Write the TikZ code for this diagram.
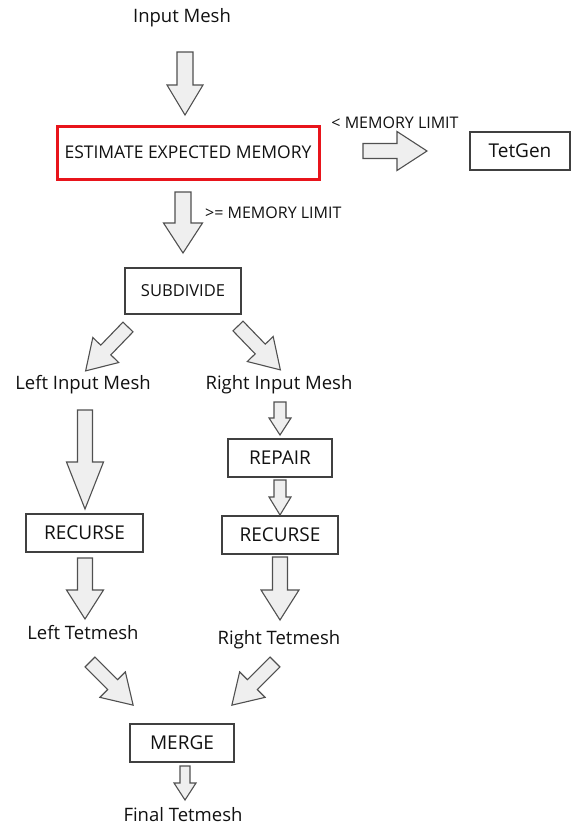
\documentclass[tikz,border=0pt]{standalone}
\usepackage{fontspec}
\setmainfont{Open Sans}
\newfontfamily\fbold{Open Sans}
\definecolor{arrfill}{HTML}{EFEFEF}
\definecolor{arrline}{HTML}{505050}
\definecolor{boxline}{HTML}{404040}
\definecolor{txt}{HTML}{111111}
\definecolor{redbox}{HTML}{E8141B}
\begin{document}
\begin{tikzpicture}[x=1pt,y=-1pt,
  lbl/.style={font=\fbold\fontsize{18.5}{20}\selectfont, text=txt, inner sep=0pt},
  small/.style={font=\fbold\fontsize{16}{18}\selectfont, text=txt, inner sep=0pt},
  procbox/.style={draw=boxline, line width=1.1pt, fill=white, inner sep=0pt, font=\fbold\fontsize{19}{21}\selectfont, text=txt},
  blkstyle/.style={draw=arrline, fill=arrfill, line width=1.1pt, line join=miter},
  pics/blk/.style args={#1/#2/#3/#4}{code={
    \draw[blkstyle] (0,-#2) -- ({#1-#4},-#2) -- ({#1-#4},-#3) -- (#1,0)
      -- ({#1-#4},#3) -- ({#1-#4},#2) -- (0,#2) -- cycle;}}
]
\useasboundingbox[fill=white] (0,0) rectangle (571,825);

% text nodes
\node[lbl] (in) at (182,18) {Input Mesh};
\node[draw=redbox, line width=3pt, minimum width=262pt, minimum height=53pt, inner sep=0pt,
      font=\fbold\fontsize{17.5}{19}\selectfont, text=txt] (est) at (188,152.5) {ESTIMATE EXPECTED MEMORY};
\node[small] (lim1) at (395,123) {< MEMORY LIMIT};
\node[procbox, minimum width=100pt, minimum height=38pt] (tet) at (520,151) {TetGen};
\node[small, anchor=west] (lim2) at (205,213) {>= MEMORY LIMIT};
\node[procbox, minimum width=116pt, minimum height=46pt, font=\fbold\fontsize{16.5}{18}\selectfont] (sub) at (183,291) {SUBDIVIDE};
\node[lbl] (lin) at (83,385) {Left Input Mesh};
\node[lbl] (rin) at (279,385) {Right Input Mesh};
\node[procbox, minimum width=104pt, minimum height=38pt] (rep) at (280,458) {REPAIR};
\node[procbox, minimum width=117pt, minimum height=38pt] (lrec) at (84.5,533) {RECURSE};
\node[procbox, minimum width=116pt, minimum height=38pt] (rrec) at (280,535) {RECURSE};
\node[lbl] (ltet) at (83,633) {Left Tetmesh};
\node[lbl] (rtet) at (279,640) {Right Tetmesh};
\node[procbox, minimum width=104pt, minimum height=38pt] (mrg) at (182,743) {MERGE};
\node[lbl] (fin) at (183,815) {Final Tetmesh};

% block arrows (length/shaft half/head half/head length)
\pic[rotate=-90] at (185,52) {blk=63/8/18/30};
\pic at (363,151) {blk=64/7.5/19.5/30};
\pic[rotate=-90] at (183,192) {blk=61/8/19.5/30};
\pic[rotate=-134] at (128,327) {blk=61/7/18/29};
\pic[rotate=-46] at (238,326) {blk=61/7/18/29};
\pic[rotate=-90] at (85,410) {blk=99/7.5/18.5/47};
\pic[rotate=-90] at (85,558) {blk=61/7.5/18.5/29};
\pic[rotate=-90] at (280,402) {blk=33/6/11/17};
\pic[rotate=-90] at (280,480) {blk=35/6/11/18};
\pic[rotate=-90] at (280,557) {blk=63/7.5/19/30};
\pic[rotate=-45] at (90,662) {blk=61/7/18/29};
\pic[rotate=-135] at (275,662) {blk=61/7/18/29};
\pic[rotate=-90] at (185,766) {blk=34/5/11/17};
\end{tikzpicture}
\end{document}
